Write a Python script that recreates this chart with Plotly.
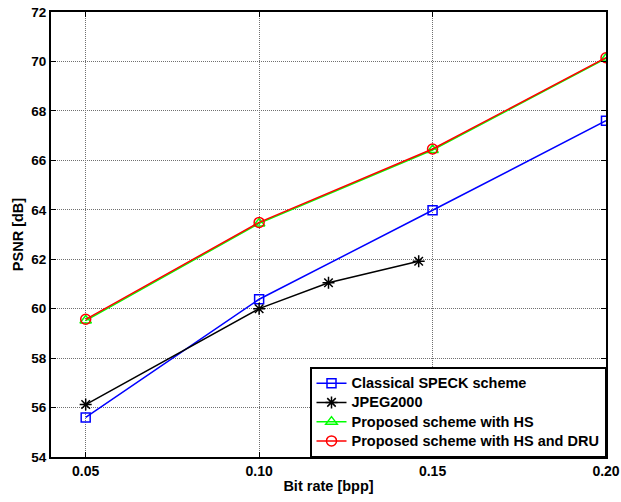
import plotly.graph_objects as go

bitrate = [0.05, 0.10, 0.15, 0.20]
speck = [55.6, 60.38, 63.98, 67.6]
jpeg_x = [0.05, 0.10, 0.12, 0.146]
jpeg_y = [56.12, 60.0, 61.05, 61.92]
hs = [59.52, 63.45, 66.42, 70.12]
hs_dru = [59.57, 63.49, 66.46, 70.15]

xticks = [0.05, 0.10, 0.15, 0.20]
xtick_labels = ["0.05", "0.10", "0.15", "0.20"]
yticks = [54, 56, 58, 60, 62, 64, 66, 68, 70, 72]
names = ["Classical SPECK scheme", "JPEG2000", "Proposed scheme with HS", "Proposed scheme with HS and DRU"]

FAM = "Liberation Sans, Arial, sans-serif"


def lab(s):
    return '<span style="font-size:14.5px"><b>' + s + '</b></span>'


fig = go.Figure()
fig.add_trace(go.Scatter(x=bitrate, y=speck, mode="lines+markers", name=lab(names[0]),
                         line=dict(color="#0000ff", width=1.5),
                         marker=dict(symbol="square-open", size=9, color="#0000ff", line=dict(width=1.5))))
fig.add_trace(go.Scatter(x=jpeg_x, y=jpeg_y, mode="lines+markers", name=lab(names[1]),
                         line=dict(color="#000000", width=1.5),
                         marker=dict(symbol="asterisk-open", size=10, color="#000000", line=dict(width=1.5))))
fig.add_trace(go.Scatter(x=bitrate, y=hs, mode="lines+markers", name=lab(names[2]),
                         line=dict(color="#00ff00", width=1.5),
                         marker=dict(symbol="triangle-up-open", size=10, color="#00ff00", line=dict(width=1.5))))
fig.add_trace(go.Scatter(x=bitrate, y=hs_dru, mode="lines+markers", name=lab(names[3]),
                         line=dict(color="#ff0000", width=1.5),
                         marker=dict(symbol="circle-open", size=10, color="#ff0000", line=dict(width=1.5))))

fig.update_layout(
    width=621, height=502,
    margin=dict(l=51, r=15, t=12, b=45),
    paper_bgcolor="white", plot_bgcolor="white",
    font=dict(family=FAM, size=14, color="black"),
    showlegend=True,
    legend=dict(x=1, y=0, xanchor="right", yanchor="bottom",
                bgcolor="white", bordercolor="black", borderwidth=1.5,
                font=dict(family=FAM, size=12.5, color="black"),
                tracegroupgap=0, itemwidth=30),
)
fig.update_xaxes(range=[0.04, 0.20], tickvals=xticks, ticktext=["<b>" + t + "</b>" for t in xtick_labels],
                 automargin=False,
                 showline=True, linecolor="black", linewidth=2, mirror="ticks",
                 ticks="inside", ticklen=5, tickcolor="black", tickwidth=1,
                 showgrid=True, gridcolor="#707070", griddash="1px,1px", gridwidth=1,
                 zeroline=False,
                 tickfont=dict(family=FAM, size=14),
                 title=dict(text="<b>Bit rate [bpp]</b>", standoff=3,
                            font=dict(family=FAM, size=14.5)))
fig.update_yaxes(range=[54, 72], tickvals=yticks, ticktext=["<b>%d</b>" % v for v in yticks],
                 automargin=False,
                 showline=True, linecolor="black", linewidth=2, mirror="ticks",
                 ticks="inside", ticklen=5, tickcolor="black", tickwidth=1,
                 showgrid=True, gridcolor="#707070", griddash="1px,1px", gridwidth=1,
                 zeroline=False,
                 tickfont=dict(family=FAM, size=13.5),
                 title=dict(text="<b>PSNR [dB]</b>", standoff=4,
                            font=dict(family=FAM, size=14.5)))

fig.write_html("out.html")
